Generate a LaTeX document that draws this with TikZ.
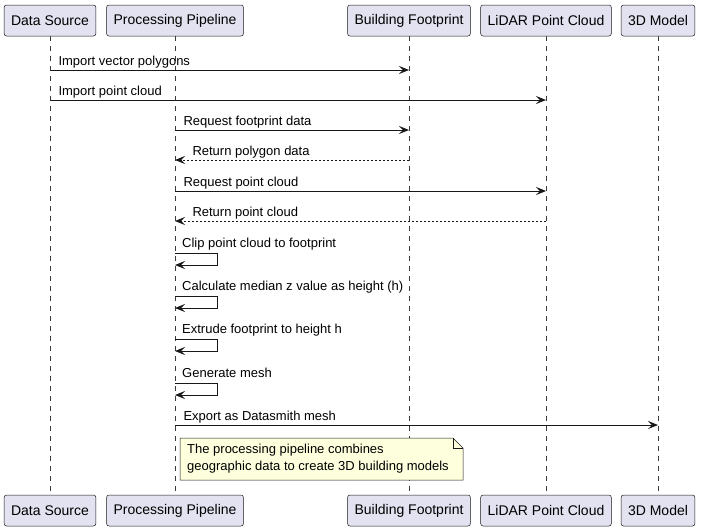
\documentclass[tikz,border=0pt]{standalone}
\usepackage{fontspec}
\setmainfont{Liberation Sans}
\usetikzlibrary{arrows.meta}
\usetikzlibrary{calc}

\definecolor{partfill}{HTML}{E2E2F0}
\definecolor{ink}{HTML}{181818}
\definecolor{notefill}{HTML}{FEFFDD}

\begin{document}
\begin{tikzpicture}[x=1pt,y=-1pt]
    \tikzset{box/.style={draw=ink,line width=0.5pt,fill=partfill,rounded corners=2.5pt,minimum height=31pt,inner xsep=7pt,font=\fontsize{14}{16}\selectfont}};
    \tikzset{life/.style={draw=ink!85,line width=0.5pt,dash pattern=on 5pt off 5pt}};
    \tikzset{msg/.style={draw=ink,line width=1pt,-{Stealth[length=10pt,width=8pt,inset=4pt]}}};
    \tikzset{ret/.style={msg,dash pattern=on 2pt off 2pt}};
    \tikzset{lbl/.style={font=\fontsize{13}{15}\selectfont,inner sep=0pt}};
    \tikzset{notebg/.style={draw=ink,line width=0.5pt,fill=notefill}};

    \useasboundingbox (0,0) rectangle (701,531);

    % participants, top and bottom, with their lifelines
    \foreach \p/\x/\t in {ds/50/Data Source, pp/175/Processing Pipeline, bf/409/Building Footprint, lc/546/LiDAR Point Cloud, tm/658/3D Model}
    {
        \node[box] (\p-top) at (\x,20.5) {\t};
        \node[box] (\p-bot) at (\x,510.5) {\t};
        \draw[life] (\p-top) -- (\p-bot);
    }

    % message rows on every lifeline
    \foreach \r/\y in {a/70,b/100,c/130,d/160,e/191,f/221,g1/253,g2/265,h1/296,h2/308,i1/339,i2/351,j1/383,j2/395,k/425}
        \foreach \p in {ds,pp,bf,lc,tm}
            \coordinate (\p-\r) at (\p-top |- 0,\y);

    \draw[msg] (ds-a) -- (bf-a) node[lbl,pos=0,anchor=base west,xshift=8pt,yshift=5pt] (ma) {Import vector polygons};
    \draw[msg] (ds-b) -- (lc-b) node[lbl,pos=0,anchor=base west,xshift=8pt,yshift=5pt] (mb) {Import point cloud};
    \draw[msg] (pp-c) -- (bf-c) node[lbl,pos=0,anchor=base west,xshift=8pt,yshift=5pt] (mc) {Request footprint data};
    \draw[ret] (bf-d) -- (pp-d) node[lbl,pos=1,anchor=base west,xshift=17pt,yshift=5pt] (md) {Return polygon data};
    \draw[msg] (pp-e) -- (lc-e) node[lbl,pos=0,anchor=base west,xshift=8pt,yshift=5pt] (me) {Request point cloud};
    \draw[ret] (lc-f) -- (pp-f) node[lbl,pos=1,anchor=base west,xshift=17pt,yshift=5pt] (mf) {Return point cloud};

    % self messages
    \draw[msg] (pp-g1) -- ++(42,0) |- (pp-g2);
    \node[lbl,anchor=base west] (mg) at ($(pp-g1)+(7,-6)$) {Clip point cloud to footprint};
    \draw[msg] (pp-h1) -- ++(42,0) |- (pp-h2);
    \node[lbl,anchor=base west] (mh) at ($(pp-h1)+(7,-6)$) {Calculate median z value as height (h)};
    \draw[msg] (pp-i1) -- ++(42,0) |- (pp-i2);
    \node[lbl,anchor=base west] (mi) at ($(pp-i1)+(7,-6)$) {Extrude footprint to height h};
    \draw[msg] (pp-j1) -- ++(42,0) |- (pp-j2);
    \node[lbl,anchor=base west] (mj) at ($(pp-j1)+(7,-6)$) {Generate mesh};

    \draw[msg] (pp-k) -- (tm-k) node[lbl,pos=0,anchor=base west,xshift=8pt,yshift=5pt] (mk) {Export as Datasmith mesh};

    % note
    \coordinate (n1) at (180,438);
    \coordinate (n2) at (463,480);
    \filldraw[notebg] (n1) -- ($(n2|-n1)+(-10,0)$) -- ($(n2|-n1)+(0,10)$) -- (n2) -- (n1|-n2) -- cycle;
    \draw[notebg,fill=none] ($(n2|-n1)+(-10,0)$) |- ($(n2|-n1)+(0,10)$);
    \node[lbl,anchor=west,align=left,font=\fontsize{13}{17}\selectfont] (note) at ($(n1)!0.5!(n1|-n2)+(7,0)$) {The processing pipeline combines\\geographic data to create 3D building models};
\end{tikzpicture}
\end{document}
